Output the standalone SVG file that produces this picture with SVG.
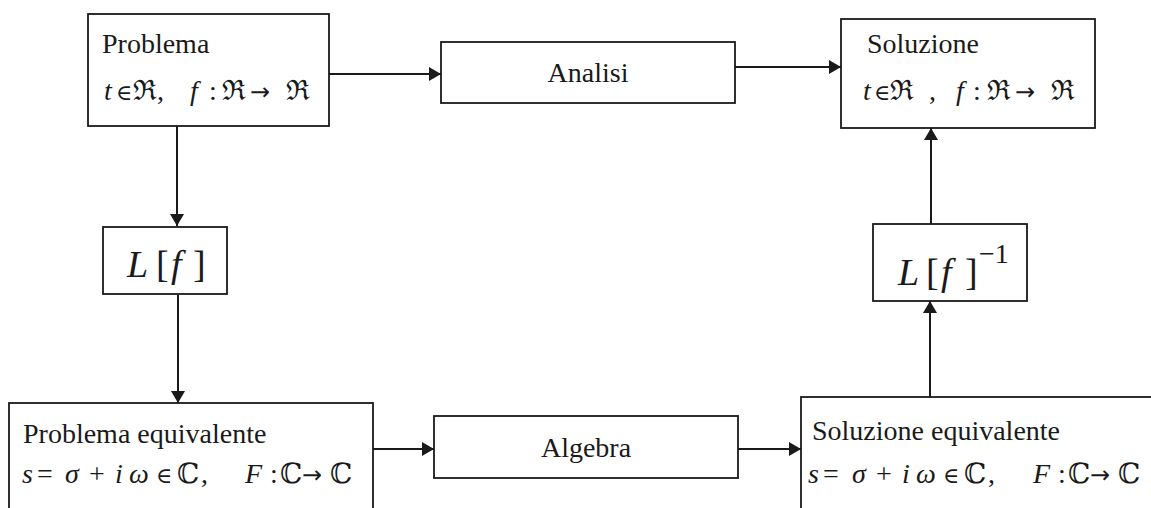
<svg xmlns="http://www.w3.org/2000/svg" width="1151" height="508" viewBox="0 0 1151 508">
<style>
.box{fill:#fff;stroke:#1a1a1a;stroke-width:1.8}
.t{font-family:"Liberation Serif","DejaVu Serif",serif;font-size:28px;fill:#1a1a1a}
.m{font-family:"Liberation Serif","DejaVu Serif",serif;font-size:28px;fill:#1a1a1a}
.i{font-style:italic}
.big{font-size:38px}
.el{font-size:22px}
.ar{font-family:"DejaVu Sans",sans-serif;font-size:24px}
.c{stroke:#1a1a1a;stroke-width:2;fill:none;marker-end:url(#ah)}
</style>
<defs>
<marker id="ah" markerWidth="14" markerHeight="14" refX="12" refY="7" orient="auto" markerUnits="userSpaceOnUse">
<path d="M0,0 L12,7 L0,14 Z" fill="#1a1a1a"/>
</marker>
</defs>
<rect width="1151" height="508" fill="#fff"/>
<g id="connectors">
<line class="c" x1="329" y1="74" x2="441" y2="74"/>
<line class="c" x1="735" y1="67" x2="841" y2="67"/>
<line class="c" x1="177" y1="126" x2="177" y2="226"/>
<line class="c" x1="178" y1="295" x2="178" y2="403"/>
<line class="c" x1="373" y1="449" x2="434" y2="449"/>
<line class="c" x1="738" y1="449" x2="801" y2="449"/>
<line class="c" x1="930" y1="397" x2="930" y2="301"/>
<line class="c" x1="931" y1="224" x2="931" y2="128"/>
</g>
<g id="problema">
<rect class="box" x="88" y="14" width="241" height="112"/>
<text class="t" x="102" y="53">Problema</text>
<text class="m" y="100"><tspan class="i" x="104">t</tspan><tspan class="el" x="116">∈</tspan><tspan x="133">ℜ</tspan><tspan x="157">,</tspan><tspan class="i" x="190">f</tspan><tspan x="209">:</tspan><tspan x="222">ℜ</tspan><tspan class="ar" x="250">→</tspan><tspan x="286">ℜ</tspan></text>
</g>
<g id="analisi">
<rect class="box" x="441" y="42" width="294" height="61"/>
<text class="t" x="588" y="82" text-anchor="middle">Analisi</text>
</g>
<g id="soluzione">
<rect class="box" x="841" y="19" width="254" height="109"/>
<text class="t" x="867" y="53">Soluzione</text>
<text class="m" y="100"><tspan class="i" x="863">t</tspan><tspan class="el" x="874">∈</tspan><tspan x="890">ℜ</tspan><tspan x="929">,</tspan><tspan class="i" x="956">f</tspan><tspan x="973">:</tspan><tspan x="987">ℜ</tspan><tspan class="ar" x="1015">→</tspan><tspan x="1051">ℜ</tspan></text>
</g>
<g id="lf">
<rect class="box" x="103" y="227" width="124" height="67"/>
<text class="m big" y="277"><tspan class="i" x="127">L</tspan><tspan x="156">[</tspan><tspan class="i" x="171">f</tspan><tspan x="193">]</tspan></text>
</g>
<g id="lfinv">
<rect class="box" x="873" y="224" width="154" height="77"/>
<text class="m big" y="285"><tspan class="i" x="898">L</tspan><tspan x="926">[</tspan><tspan class="i" x="941">f</tspan><tspan x="965">]</tspan></text>
<text class="m" x="979" y="263" font-size="22">−1</text>
</g>
<g id="problema-equivalente">
<rect class="box" x="9" y="403" width="364" height="120"/>
<text class="t" x="23" y="443">Problema equivalente</text>
<text class="m" y="483"><tspan class="i" x="22">s</tspan><tspan x="37">=</tspan><tspan class="i" x="65">σ</tspan><tspan x="89">+</tspan><tspan class="i" x="115">i</tspan><tspan class="i" x="129">ω</tspan><tspan class="el" x="156">∈</tspan><tspan x="177">ℂ</tspan><tspan x="201">,</tspan><tspan class="i" x="245">F</tspan><tspan x="270">:</tspan><tspan x="280">ℂ</tspan><tspan class="ar" x="302">→</tspan><tspan x="330">ℂ</tspan></text>
</g>
<g id="algebra">
<rect class="box" x="434" y="416" width="304" height="62"/>
<text class="t" x="586" y="457" text-anchor="middle">Algebra</text>
</g>
<g id="soluzione-equivalente">
<rect class="box" x="801" y="397" width="380" height="130"/>
<text class="t" x="812" y="440">Soluzione equivalente</text>
<text class="m" y="483"><tspan class="i" x="808">s</tspan><tspan x="823">=</tspan><tspan class="i" x="852">σ</tspan><tspan x="876">+</tspan><tspan class="i" x="902">i</tspan><tspan class="i" x="916">ω</tspan><tspan class="el" x="943">∈</tspan><tspan x="964">ℂ</tspan><tspan x="988">,</tspan><tspan class="i" x="1033">F</tspan><tspan x="1058">:</tspan><tspan x="1068">ℂ</tspan><tspan class="ar" x="1090">→</tspan><tspan x="1118">ℂ</tspan></text>
</g>
</svg>
